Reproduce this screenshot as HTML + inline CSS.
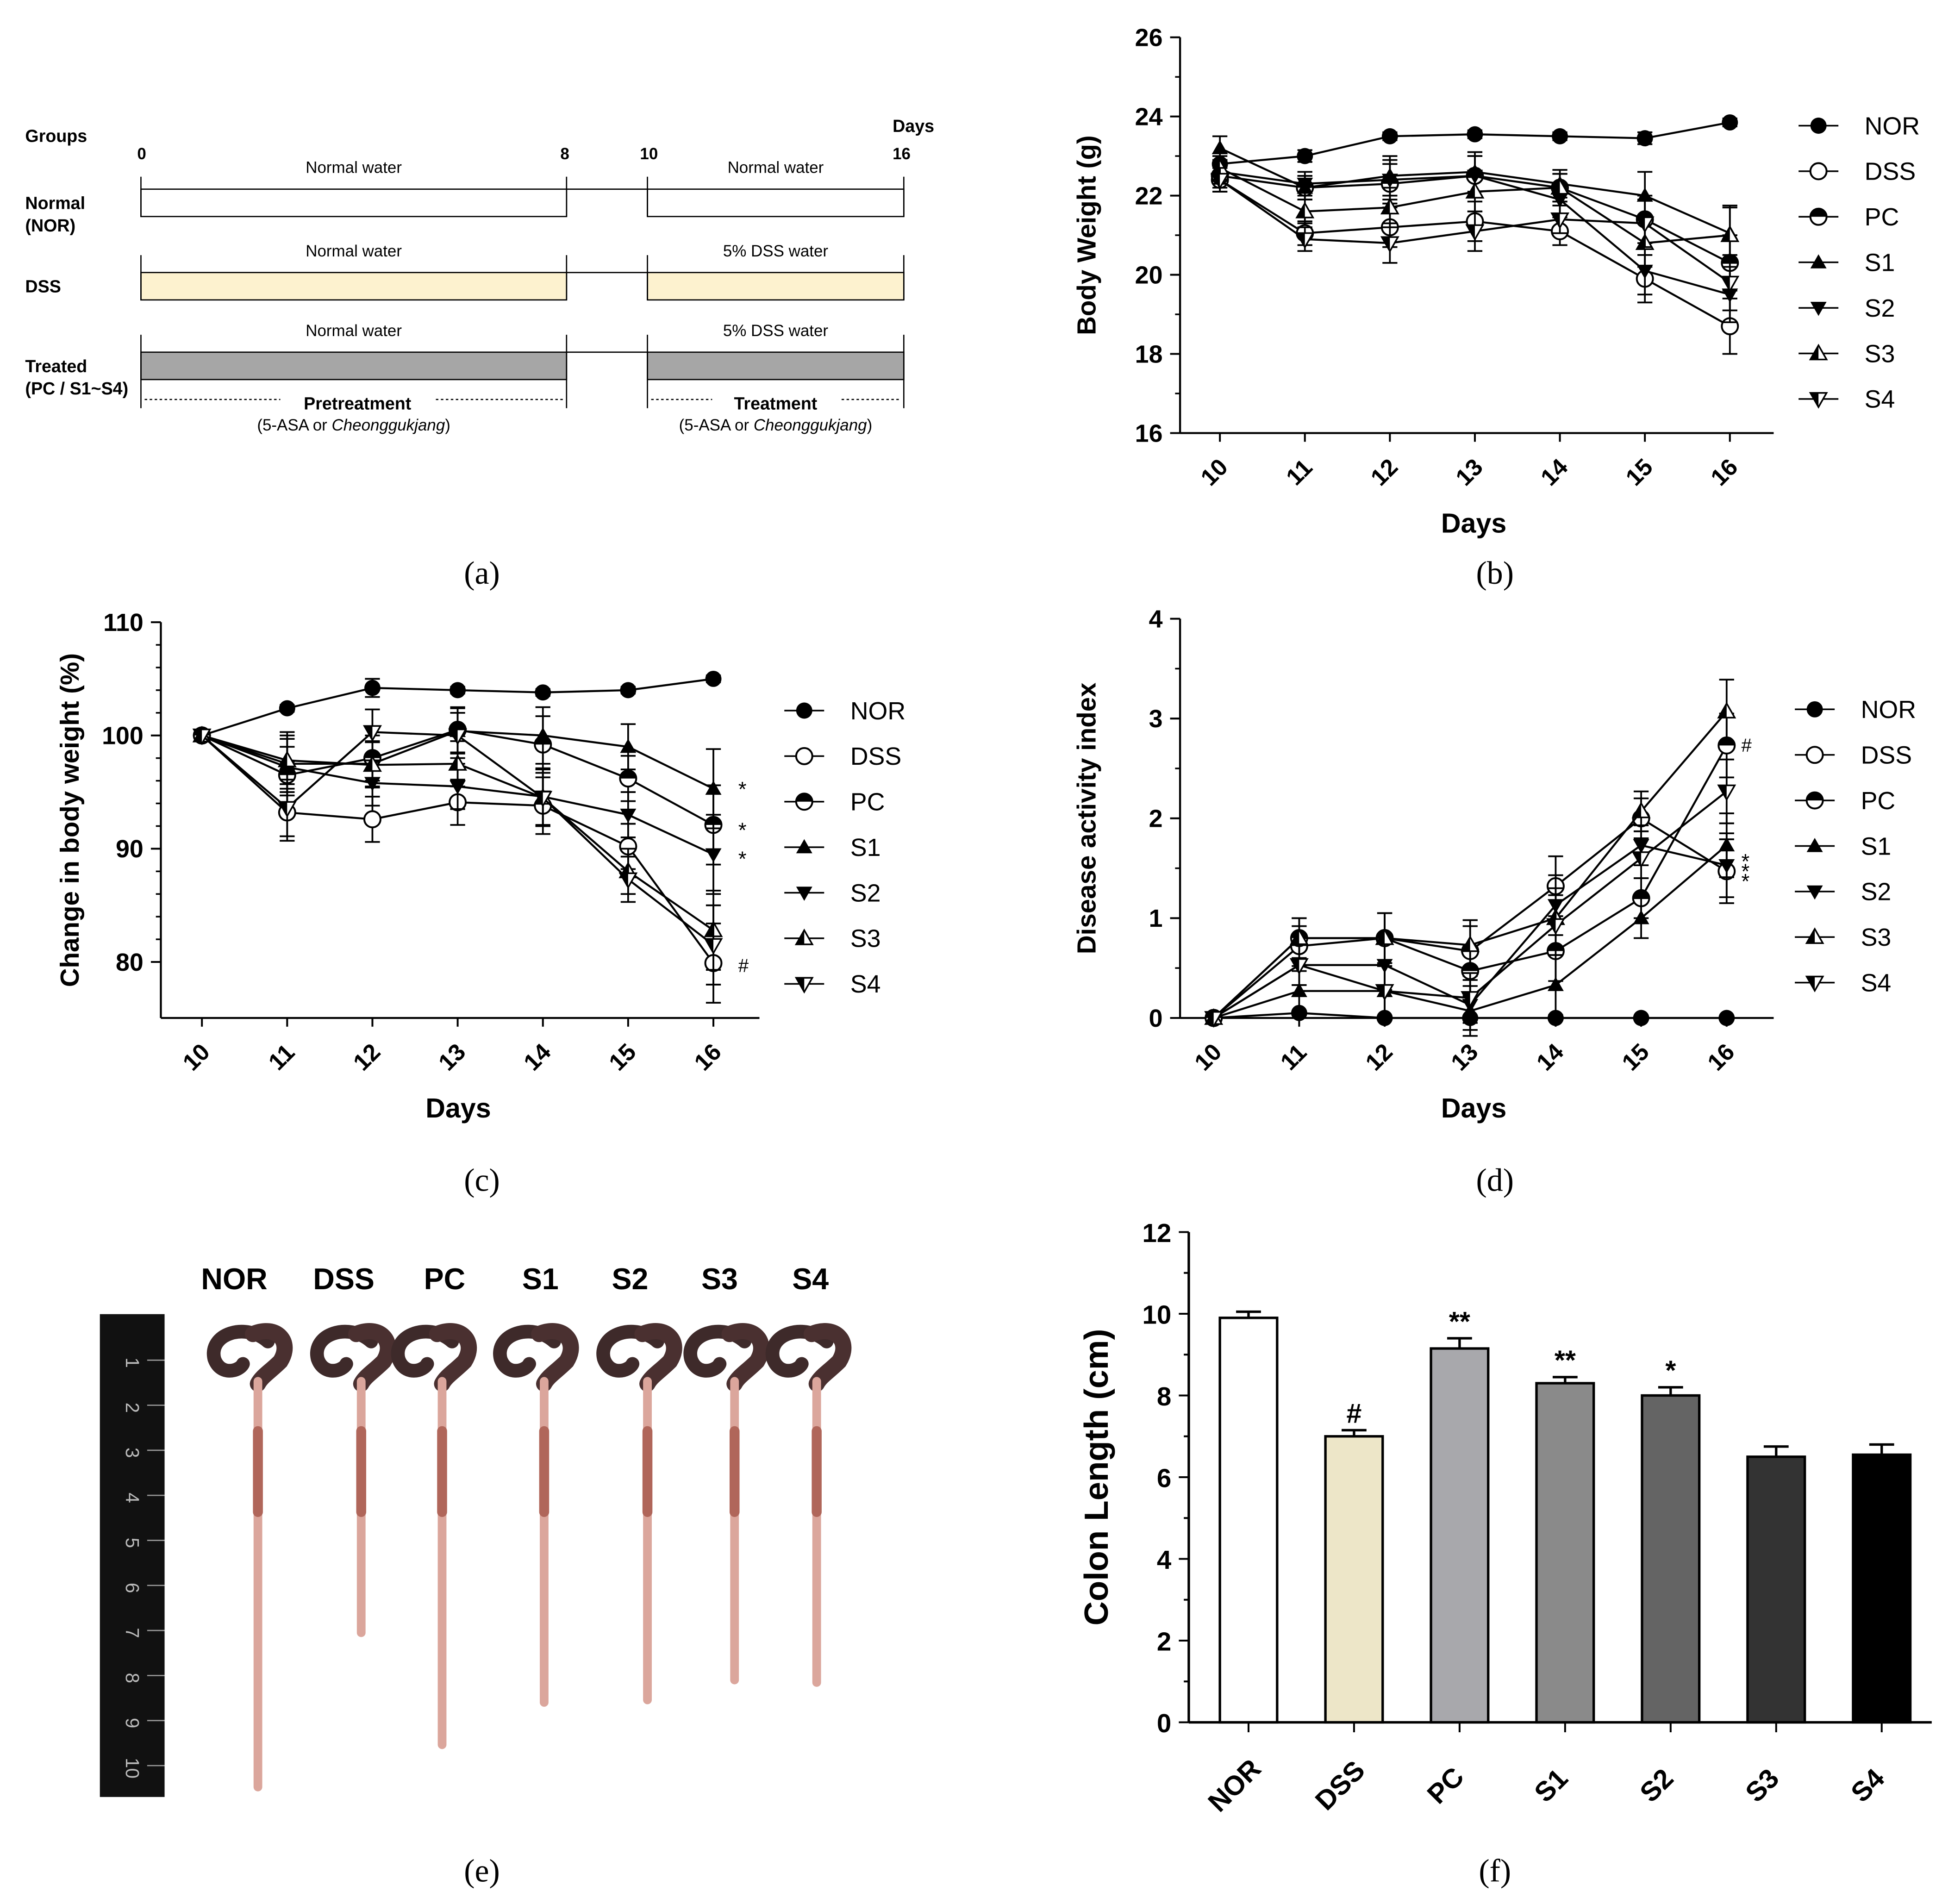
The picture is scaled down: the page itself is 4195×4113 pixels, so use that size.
<!DOCTYPE html>
<html><head><meta charset="utf-8"><style>
html,body{margin:0;padding:0;background:#fff}
svg{display:block}
text{font-family:"Liberation Sans",Arial,sans-serif}
.serif{font-family:"Liberation Serif",serif}
</style></head><body>
<svg id="fig" width="4195" height="4113" viewBox="0 0 1560 1530" xmlns="http://www.w3.org/2000/svg">
<rect width="1560" height="1530" fill="#fff"/>
<!-- Panel a -->
<g id="pa" font-size="13">
 <text x="20" y="114" font-weight="bold" font-size="14">Groups</text>
 <text x="717" y="106" font-weight="bold" font-size="14">Days</text>
 <text x="110" y="128" font-weight="bold">0</text><text x="450" y="128" font-weight="bold">8</text>
 <text x="514" y="128" font-weight="bold">10</text><text x="717" y="128" font-weight="bold">16</text>
 <text x="20" y="168" font-weight="bold" font-size="14">Normal</text><text x="20" y="186" font-weight="bold" font-size="14">(NOR)</text>
 <text x="20" y="235" font-weight="bold" font-size="14">DSS</text>
 <text x="20" y="299" font-weight="bold" font-size="14">Treated</text><text x="20" y="317" font-weight="bold" font-size="14">(PC / S1~S4)</text>
 <text x="284" y="139" text-anchor="middle">Normal water</text><text x="623" y="139" text-anchor="middle">Normal water</text>
 <rect x="113" y="152" width="342" height="22" fill="#fff" stroke="#000"/><rect x="520" y="152" width="206" height="22" fill="#fff" stroke="#000"/>
 <line x1="455" y1="152" x2="520" y2="152" stroke="#000"/>
 <text x="284" y="206" text-anchor="middle">Normal water</text><text x="623" y="206" text-anchor="middle">5% DSS water</text>
 <rect x="113" y="219" width="342" height="22" fill="#fdf2cf" stroke="#000"/><rect x="520" y="219" width="206" height="22" fill="#fdf2cf" stroke="#000"/>
 <line x1="455" y1="219" x2="520" y2="219" stroke="#000"/>
 <text x="284" y="270" text-anchor="middle">Normal water</text><text x="623" y="270" text-anchor="middle">5% DSS water</text>
 <rect x="113" y="283" width="342" height="22" fill="#a6a6a6" stroke="#000"/><rect x="520" y="283" width="206" height="22" fill="#a6a6a6" stroke="#000"/>
 <line x1="455" y1="283" x2="520" y2="283" stroke="#000"/>
 <g stroke="#000">
  <line x1="113" y1="142" x2="113" y2="174"/><line x1="455" y1="142" x2="455" y2="174"/><line x1="520" y1="142" x2="520" y2="174"/><line x1="726" y1="142" x2="726" y2="174"/>
  <line x1="113" y1="205" x2="113" y2="241"/><line x1="455" y1="205" x2="455" y2="241"/><line x1="520" y1="205" x2="520" y2="241"/><line x1="726" y1="205" x2="726" y2="241"/>
  <line x1="113" y1="269" x2="113" y2="328"/><line x1="455" y1="269" x2="455" y2="328"/><line x1="520" y1="269" x2="520" y2="328"/><line x1="726" y1="269" x2="726" y2="328"/>
 </g>
 <g stroke="#000" stroke-dasharray="2,2"><line x1="116" y1="321" x2="225" y2="321"/><line x1="350" y1="321" x2="452" y2="321"/><line x1="523" y1="321" x2="572" y2="321"/><line x1="676" y1="321" x2="723" y2="321"/></g>
 <text x="287" y="329" text-anchor="middle" font-weight="bold" font-size="14">Pretreatment</text>
 <text x="623" y="329" text-anchor="middle" font-weight="bold" font-size="14">Treatment</text>
 <text x="284" y="346" text-anchor="middle">(5-ASA or <tspan font-style="italic">Cheonggukjang</tspan>)</text>
 <text x="623" y="346" text-anchor="middle">(5-ASA or <tspan font-style="italic">Cheonggukjang</tspan>)</text>
</g>
<!-- Panel e photo -->
<g id="pe">
 <rect x="80" y="1056" width="52" height="388" fill="#111"/>
 <g id="ruler" fill="#bbb" font-size="15"></g>
 <g font-weight="bold" font-size="24"><text x="188" y="1036" text-anchor="middle">NOR</text><text x="276" y="1036" text-anchor="middle">DSS</text><text x="357" y="1036" text-anchor="middle">PC</text><text x="434" y="1036" text-anchor="middle">S1</text><text x="506" y="1036" text-anchor="middle">S2</text><text x="578" y="1036" text-anchor="middle">S3</text><text x="651" y="1036" text-anchor="middle">S4</text></g>
 <g id="colons"></g>
</g>
<g id="charts"></g>
<g class="serif" font-size="26">
 <text class="serif" x="387" y="469" text-anchor="middle">(a)</text><text class="serif" x="1201" y="469" text-anchor="middle">(b)</text>
 <text class="serif" x="387" y="957" text-anchor="middle">(c)</text><text class="serif" x="1201" y="957" text-anchor="middle">(d)</text>
 <text class="serif" x="387" y="1512" text-anchor="middle">(e)</text><text class="serif" x="1201" y="1512" text-anchor="middle">(f)</text>
</g>
</svg>
<script>
const NS='http://www.w3.org/2000/svg';
const days=[10,11,12,13,14,15,16];
const groups=['NOR','DSS','PC','S1','S2','S3','S4'];
// Body weight (g)
const bwNOR=[22.8,23.0,23.5,23.55,23.5,23.45,23.85];
const bwDSS=[22.4,21.05,21.2,21.35,21.1,19.9,18.7];
const bwPC=[22.5,22.2,22.3,22.5,22.2,21.4,20.3];
const bwS1=[23.2,22.2,22.5,22.6,22.3,22.0,21.05];
const bwS2=[22.6,22.3,22.4,22.5,21.9,20.1,19.5];
const bwS3=[22.7,21.6,21.7,22.1,22.2,20.8,21.0];
const bwS4=[22.4,20.9,20.8,21.1,21.4,21.3,19.8];
const bwErr=[0.3,0.3,0.5,0.5,0.35,0.6,0.7];
const bwNorErr=[0.1,0.15,0.1,0.1,0.1,0.15,0.1];
// Change in body weight (%)
const cwNOR=[100,102.4,104.2,104,103.8,104,105];
const cwDSS=[100,93.2,92.6,94.1,93.8,90.2,79.9];
const cwPC=[100,96.5,98,100.5,99.2,96.2,92.1];
const cwS1=[100,97.5,97.5,100.4,100,99,95.3];
const cwS2=[100,97.2,95.8,95.5,94.6,93,89.5];
const cwS3=[100,97.8,97.4,97.5,94.5,88,82.8];
const cwS4=[100,93.6,100.3,100,94.5,87.3,81.5];
const cwErr=[0,2.5,2,2,2.5,2,3.5];
const cwNorErr=[0,0.3,0.8,0.3,0.3,0.3,0.3];
// Disease activity index
const daNOR=[0,0.05,0,0,0,0,0];
const daDSS=[0,0.72,0.8,0.67,1.32,2.0,1.47];
const daPC=[0,0.8,0.8,0.47,0.67,1.2,2.73];
const daS1=[0,0.27,0.27,0.07,0.33,1.0,1.73];
const daS2=[0,0.53,0.53,0.13,1.13,1.73,1.53];
const daS3=[0,0.8,0.8,0.73,1.0,2.07,3.07];
const daS4=[0,0.53,0.27,0.2,0.93,1.6,2.27];
const daErr=[0,0.2,0.25,0.25,0.3,0.2,0.32];
const daNorErr=[0,0,0,0,0,0,0];
// Colon length (cm)
const clVal=[9.9,7.0,9.15,8.3,8.0,6.5,6.55];
const clErr=[0.15,0.15,0.25,0.15,0.2,0.25,0.25];
const clMark=['','#','**','**','*','',''];
const clColors=['#ffffff','#ede6c8','#a8a8ac','#8a8a8a','#646464','#333333','#000000'];

function el(tag,attrs,parent,txt){const e=document.createElementNS(NS,tag);for(const k in attrs)e.setAttribute(k,attrs[k]);if(txt!==undefined)e.textContent=txt;parent.appendChild(e);return e;}
const root=document.getElementById('charts');

function marker(g,type,x,y,r){
 const s='#000';
 if(type===0){el('circle',{cx:x,cy:y,r:r,fill:s},g);}
 else if(type===1){el('circle',{cx:x,cy:y,r:r,fill:'#fff',stroke:s,'stroke-width':1.5},g);}
 else if(type===2){el('circle',{cx:x,cy:y,r:r,fill:'#fff',stroke:s,'stroke-width':1.5},g);el('path',{d:`M${x-r},${y}A${r},${r} 0 0 1 ${x+r},${y}Z`,fill:s},g);}
 else if(type===3){el('path',{d:`M${x},${y-r}L${x+r},${y+r*0.75}L${x-r},${y+r*0.75}Z`,fill:s},g);}
 else if(type===4){el('path',{d:`M${x},${y+r}L${x+r},${y-r*0.75}L${x-r},${y-r*0.75}Z`,fill:s},g);}
 else if(type===5){el('path',{d:`M${x},${y-r}L${x+r},${y+r*0.75}L${x-r},${y+r*0.75}Z`,fill:'#fff',stroke:s,'stroke-width':1.3},g);el('path',{d:`M${x},${y-r}L${x},${y+r*0.75}L${x-r},${y+r*0.75}Z`,fill:s},g);}
 else {el('path',{d:`M${x},${y+r}L${x+r},${y-r*0.75}L${x-r},${y-r*0.75}Z`,fill:'#fff',stroke:s,'stroke-width':1.3},g);el('path',{d:`M${x},${y+r}L${x},${y-r*0.75}L${x-r},${y-r*0.75}Z`,fill:s},g);}
}

function lineChart(cfg){
 const g=el('g',{},root);
 
 
 const X=d=>cfg.x0+(d-10)*cfg.dx;
 const Y=v=>cfg.yb-(v-cfg.ymin)*cfg.sy;
 el('line',{x1:cfg.ax,y1:Y(cfg.ymax),x2:cfg.ax,y2:cfg.xb,stroke:'#000','stroke-width':1.6},g);
 el('line',{x1:cfg.ax,y1:cfg.xb,x2:cfg.axEnd,y2:cfg.xb,stroke:'#000','stroke-width':1.6},g);
 for(let v=cfg.ymin;v<=cfg.ymax+1e-6;v+=cfg.minor){el('line',{x1:cfg.ax-4,y1:Y(v),x2:cfg.ax,y2:Y(v),stroke:'#000','stroke-width':1.3},g);}
 cfg.ticks.forEach(v=>{el('line',{x1:cfg.ax-8,y1:Y(v),x2:cfg.ax,y2:Y(v),stroke:'#000','stroke-width':1.5},g);
  const t=el('text',{x:cfg.ax-14,y:Y(v)+7,'text-anchor':'end','font-size':20,'font-weight':'bold'},g,String(v));});
 days.forEach(d=>{el('line',{x1:X(d),y1:cfg.xb,x2:X(d),y2:cfg.xb+7,stroke:'#000','stroke-width':1.5},g);
  const t=el('text',{x:0,y:0,'text-anchor':'middle','font-size':19,'font-weight':'bold',transform:`translate(${X(d)},${cfg.xb+36}) rotate(-45)`},g,String(d));});
 const xt=el('text',{x:cfg.xTitleX,y:cfg.xb+80,'text-anchor':'middle','font-size':22,'font-weight':'bold'},g,'Days');
 const yt=el('text',{x:0,y:0,'text-anchor':'middle','font-size':21,'font-weight':'bold',transform:`translate(${cfg.yTitleX},${(Y(cfg.ymax)+cfg.xb)/2}) rotate(-90)`},g,cfg.yTitle);
 cfg.series.forEach((arr,si)=>{
  const sg=el('g',{},g);
  
  
  el('polyline',{points:arr.map((v,i)=>X(days[i])+','+Y(v)).join(' '),fill:'none',stroke:'#000','stroke-width':1.6},sg);
  const errs=si===0?cfg.norErr:cfg.err;
  arr.forEach((v,i)=>{const e=errs[i];if(e>0){el('line',{x1:X(days[i]),y1:Y(v-e),x2:X(days[i]),y2:Y(v+e),stroke:'#000','stroke-width':1.4},sg);
   [v-e,v+e].forEach(w=>el('line',{x1:X(days[i])-6,y1:Y(w),x2:X(days[i])+6,y2:Y(w),stroke:'#000','stroke-width':1.4},sg));}
   marker(sg,si,X(days[i]),Y(v),6.5);});
 });
 groups.forEach((n,i)=>{const lg=el('g',{},g);
  
  
  const y=cfg.legY+i*36.6;
  el('line',{x1:cfg.legX-16,y1:y,x2:cfg.legX+16,y2:y,stroke:'#000','stroke-width':1.3},lg);
  marker(lg,i,cfg.legX,y,6.5);
  el('text',{x:cfg.legX+37,y:y+7,'font-size':20},lg,n);});
 (cfg.notes||[]).forEach(n=>el('text',{x:n[0],y:n[1],'font-size':n[3]||17},g,n[2]));
}

lineChart({name:'panel-b-body-weight',x0:980,dx:68.3,yb:348,ymin:16,ymax:26,sy:31.8,minor:1,ticks:[16,18,20,22,24,26],ax:948,axEnd:1425,xb:348,xTitleX:1184,yTitleX:880,yTitle:'Body Weight (g)',series:[bwNOR,bwDSS,bwPC,bwS1,bwS2,bwS3,bwS4],err:bwErr,norErr:bwNorErr,legX:1461,legY:101});
lineChart({name:'panel-c-change-body-weight',x0:162,dx:68.5,yb:773,ymin:80,ymax:110,sy:9.1,minor:2,ticks:[80,90,100,110],ax:129,axEnd:610,xb:818,xTitleX:368,yTitleX:63,yTitle:'Change in body weight (%)',series:[cwNOR,cwDSS,cwPC,cwS1,cwS2,cwS3,cwS4],err:cwErr,norErr:cwNorErr,legX:646,legY:571,notes:[[593,640,'*'],[593,673,'*'],[593,696,'*'],[593,781,'#',15]]});
lineChart({name:'panel-d-disease-activity',x0:975,dx:68.7,yb:818,ymin:0,ymax:4,sy:80.2,minor:0.5,ticks:[0,1,2,3,4],ax:948,axEnd:1425,xb:818,xTitleX:1184,yTitleX:880,yTitle:'Disease activity index',series:[daNOR,daDSS,daPC,daS1,daS2,daS3,daS4],err:daErr,norErr:daNorErr,legX:1458,legY:570,notes:[[1399,604,'#',15],[1399,698,'*'],[1399,706,'*'],[1399,714,'*']]});

// Bar chart f
(function(){
 const g=el('g',{},root);
 
 
 const yb=1384,sy=32.83,ax=955;
 const Y=v=>yb-v*sy;
 const X=i=>1003+i*84.8;
 el('line',{x1:ax,y1:Y(12),x2:ax,y2:yb,stroke:'#000','stroke-width':2},g);
 el('line',{x1:ax,y1:yb,x2:1552,y2:yb,stroke:'#000','stroke-width':2},g);
 for(let v=0;v<=12;v++){el('line',{x1:ax-(v%2?4:8),y1:Y(v),x2:ax,y2:Y(v),stroke:'#000','stroke-width':1.5},g);
  if(v%2===0){const t=el('text',{x:ax-14,y:Y(v)+8,'text-anchor':'end','font-size':21,'font-weight':'bold'},g,String(v));}}
 const yt=el('text',{x:0,y:0,'text-anchor':'middle','font-size':27,'font-weight':'bold',transform:`translate(890,${(Y(12)+yb)/2}) rotate(-90)`},g,'Colon Length (cm)');
 clVal.forEach((v,i)=>{
  const b=el('rect',{x:X(i)-23,y:Y(v),width:46,height:v*sy,fill:clColors[i],stroke:'#000','stroke-width':2},g);
  
  
  el('line',{x1:X(i),y1:Y(v),x2:X(i),y2:Y(v+clErr[i]),stroke:'#000','stroke-width':2},g);
  el('line',{x1:X(i)-10,y1:Y(v+clErr[i]),x2:X(i)+10,y2:Y(v+clErr[i]),stroke:'#000','stroke-width':2},g);
  el('line',{x1:X(i),y1:yb,x2:X(i),y2:yb+8,stroke:'#000','stroke-width':1.5},g);
  if(clMark[i])el('text',{x:X(i),y:Y(v+clErr[i])-6,'text-anchor':'middle','font-size':22,'font-weight':'bold'},g,clMark[i]);
  const t=el('text',{x:0,y:0,'text-anchor':'middle','font-size':22,'font-weight':'bold',transform:`translate(${X(i)-6},${yb+56}) rotate(-45)`},g,groups[i]);
  
 });
})();

// Ruler & colons (photo approximation)
(function(){
 const r=document.getElementById('ruler');
 for(let i=1;i<=10;i++){const y=1095+(i-1)*36.2;
  el('text',{x:0,y:0,'font-size':15,fill:'#bbb','text-anchor':'middle',transform:`translate(101,${y}) rotate(90)`},r,String(i));
  el('line',{x1:118,y1:y-2,x2:132,y2:y-2,stroke:'#999','stroke-width':1},r);}
 const c=document.getElementById('colons');
 const xs=[207,290,355,437,520,590,656],ends=[1436,1312,1402,1368,1366,1350,1352];
 xs.forEach((x,i)=>{
  el('path',{d:`M${x+8},1078 C${x-10},1062 ${x-40},1072 ${x-35},1092 C${x-30},1106 ${x-15},1102 ${x-12},1096`,fill:'none',stroke:'#3e2a2a','stroke-width':11,'stroke-linecap':'round'},c);
  el('path',{d:`M${x-4},1072 C${x+15},1064 ${x+28},1078 ${x+18},1094 C${x+10},1102 ${x+3},1106 ${x},1112`,fill:'none',stroke:'#4a3030','stroke-width':13,'stroke-linecap':'round'},c);
  el('line',{x1:x,y1:1110,x2:x,y2:ends[i],stroke:'#dba69c','stroke-width':7,'stroke-linecap':'round'},c);
  el('line',{x1:x,y1:1150,x2:x,y2:1215,stroke:'#b0665a','stroke-width':8,'stroke-linecap':'round'},c);
 });
})();
</script>
</body></html>
